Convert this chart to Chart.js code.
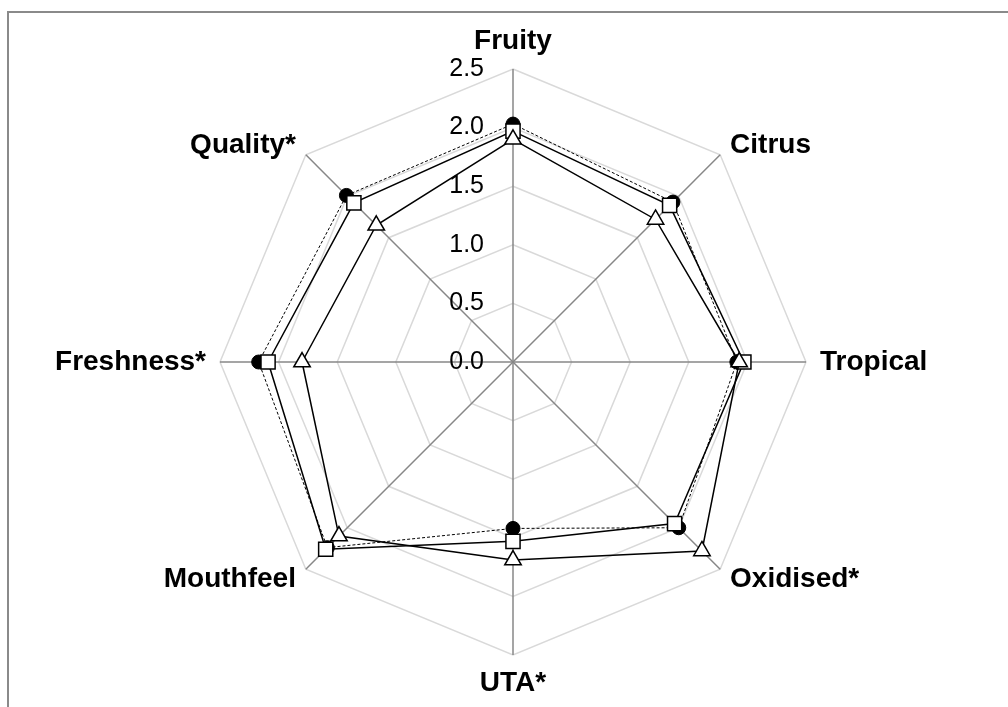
<!DOCTYPE html>
<html>
<head>
<meta charset="utf-8">
<title>Sensory radar</title>
<script src="https://cdn.jsdelivr.net/npm/chart.js@4.4.0/dist/chart.umd.min.js"></script>
<style>
    html, body { margin: 0; padding: 0; background: #fff; }
    #wrap { position: relative; width: 1008px; height: 707px; overflow: hidden; }
    #frame { position: absolute; left: 7px; top: 11px; right: -4px; bottom: -4px;
             border-top: 2px solid #8a8a8a; border-left: 2px solid #8a8a8a; }
    #chart { position: absolute; left: 0; top: 0; }
</style>
</head>
<body>
<div id="wrap">
    <div id="frame"></div>
    <canvas id="chart" width="1008" height="707"></canvas>
</div>
<script>
// Attributes round the radar, clockwise from the top
const categories = ['Fruity', 'Citrus', 'Tropical', 'Oxidised*', 'UTA*', 'Mouthfeel', 'Freshness*', 'Quality*'];

// Values
const circleValues = [2.03, 1.93, 1.91, 2.00, 1.42, 2.24, 2.17, 2.01];
const squareValues = [1.97, 1.89, 1.97, 1.95, 1.53, 2.26, 2.09, 1.92];
const triangleValues = [1.90, 1.72, 1.93, 2.28, 1.69, 2.10, 1.80, 1.65];

const tickLabels = ['0.0', '0.5', '1.0', '1.5', '2.0', '2.5'];

// Tick numbers left of the vertical axis, and the attribute names
const radarText = {
    id: 'radarText',
    beforeDatasetsDraw(chart) {
        const scale = chart.scales.r;
        const ctx = chart.ctx;
        ctx.save();
        ctx.fillStyle = '#000';

        ctx.font = '25px "Liberation Sans", Arial, sans-serif';
        ctx.textAlign = 'right';
        ctx.textBaseline = 'middle';
        scale.ticks.forEach((tick, i) => {
            const y = scale.yCenter - scale.getDistanceFromCenterForValue(tick.value);
            ctx.fillText(tickLabels[i], scale.xCenter - 29, y);
        });

        ctx.font = 'bold 28px "Liberation Sans", Arial, sans-serif';
        categories.forEach((label, i) => {
            const p = scale.getPointPosition(i, scale.drawingArea + 14);
            const a = p.angle + Math.PI / 2;
            const s = Math.sin(a);
            const c = Math.cos(a);
            ctx.textAlign = s > 0.01 ? 'left' : (s < -0.01 ? 'right' : 'center');
            if (Math.abs(s) < 0.01) {
                ctx.textBaseline = c > 0 ? 'bottom' : 'top';
            } else {
                ctx.textBaseline = 'middle';
            }
            ctx.fillText(label, p.x, p.y);
        });
        ctx.restore();
    }
};

const ctx = document.getElementById('chart').getContext('2d');

const chart = new Chart(ctx, {
    type: 'radar',
    data: {
        labels: categories,
        datasets: [{
            label: 'Circles',
            data: circleValues,
            borderColor: '#000',
            borderWidth: 1,
            borderDash: [3, 2],
            backgroundColor: 'transparent',
            fill: false,
            pointStyle: 'circle',
            pointRadius: 7,
            pointBackgroundColor: '#000',
            pointBorderColor: '#000',
            pointBorderWidth: 1,
            order: 2
        }, {
            label: 'Squares',
            data: squareValues,
            borderColor: '#000',
            borderWidth: 1.5,
            backgroundColor: 'transparent',
            fill: false,
            pointStyle: 'rect',
            pointRadius: 10,
            pointBackgroundColor: '#fff',
            pointBorderColor: '#000',
            pointBorderWidth: 1.5,
            order: 1
        }, {
            label: 'Triangles',
            data: triangleValues,
            borderColor: '#000',
            borderWidth: 1.5,
            backgroundColor: 'transparent',
            fill: false,
            pointStyle: 'triangle',
            pointRadius: 9.5,
            pointBackgroundColor: '#fff',
            pointBorderColor: '#000',
            pointBorderWidth: 1.5,
            order: 0
        }]
    },
    options: {
        responsive: false,
        animation: false,
        layout: {
            padding: { left: 220, right: 202, top: 69, bottom: 52 }
        },
        elements: {
            line: { tension: 0 }
        },
        plugins: {
            legend: { display: false },
            tooltip: { enabled: false }
        },
        scales: {
            r: {
                min: 0,
                max: 2.5,
                ticks: { display: false, stepSize: 0.5 },
                grid: { color: '#d9d9d9', lineWidth: 1.5 },
                angleLines: { color: '#878787', lineWidth: 1.5 },
                pointLabels: { display: false }
            }
        }
    },
    plugins: [radarText]
});
</script>
</body>
</html>
